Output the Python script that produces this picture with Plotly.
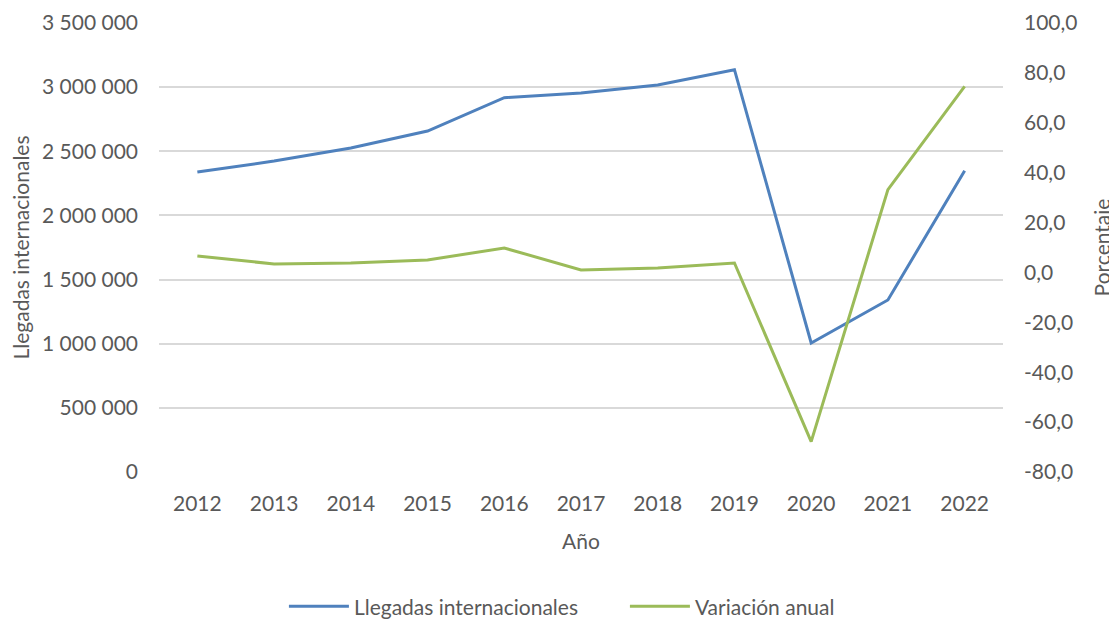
import plotly.graph_objects as go

years = ["2012", "2013", "2014", "2015", "2016", "2017", "2018", "2019", "2020", "2021", "2022"]
llegadas = [2338000, 2424000, 2526000, 2658000, 2918000, 2955000, 3017000, 3136000, 1006000, 1341000, 2348000]
variacion = [6.6, 3.4, 3.8, 5.0, 9.8, 1.0, 1.8, 3.8, -67.8, 33.2, 74.6]

left_ticks = [0, 500000, 1000000, 1500000, 2000000, 2500000, 3000000, 3500000]
right_ticks = [-80, -60, -40, -20, 0, 20, 40, 60, 80, 100]

def fmt_left(v):
    return f"{v:,}".replace(",", " ")

def fmt_right(v):
    return f"{v:.1f}".replace(".", ",")

FONT = "Lato"
TXT = "#595959"
FS = 21

fig = go.Figure()
fig.add_trace(go.Scatter(x=years, y=llegadas, mode="lines", name="Llegadas internacionales",
                         line=dict(color="#4F81BD", width=3), yaxis="y"))
fig.add_trace(go.Scatter(x=years, y=variacion, mode="lines", name="Variación anual",
                         line=dict(color="#9BBB59", width=3), yaxis="y2"))

fig.update_layout(
    width=1109, height=615,
    margin=dict(l=151, r=114, t=15, b=151, autoexpand=False),
    paper_bgcolor="white", plot_bgcolor="white",
    font=dict(family=FONT, size=FS, color=TXT),
    xaxis=dict(type="category", range=[-0.5, 10.5], showgrid=False, showline=False,
               ticks="", tickfont=dict(size=FS, color=TXT), ticklabelstandoff=17, automargin=False,
               title=dict(text="Año", font=dict(size=FS, color=TXT), standoff=20)),
    yaxis=dict(range=[0, 3500000], tickvals=left_ticks, ticktext=[fmt_left(v) for v in left_ticks],
               showgrid=True, gridcolor="#D9D9D9", gridwidth=1.5, zeroline=False, showline=False,
               ticks="", ticklabelstandoff=20, automargin=False,
               title=dict(text="Llegadas internacionales", font=dict(size=FS, color=TXT), standoff=10)),
    yaxis2=dict(range=[-80, 100], tickvals=right_ticks, ticktext=[fmt_right(v) for v in right_ticks],
                overlaying="y", side="right", showgrid=False, zeroline=False, showline=False,
                ticks="", ticklabelstandoff=20, automargin=False,
                title=dict(text="Porcentaje", font=dict(size=FS, color=TXT), standoff=18)),
    legend=dict(orientation="h", x=0.148, xanchor="left", y=-0.30, yanchor="middle",
                font=dict(size=FS, color=TXT), itemwidth=60, entrywidth=266,
                entrywidthmode="pixels", traceorder="normal"),
    showlegend=True,
)

fig.write_html("out.html")
